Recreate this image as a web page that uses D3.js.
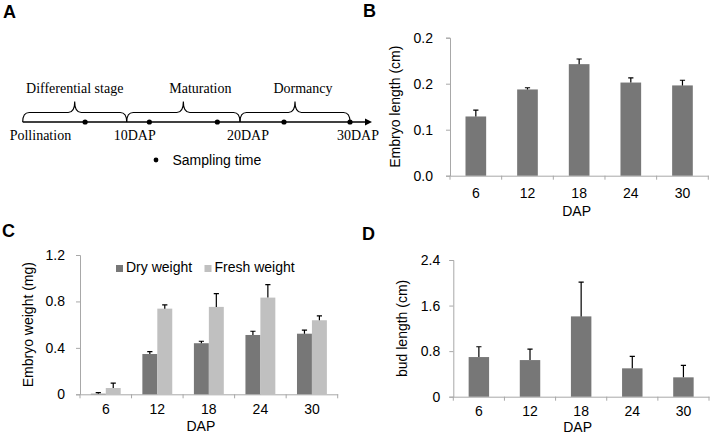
<!DOCTYPE html>
<html><head><meta charset="utf-8">
<script src="https://cdn.jsdelivr.net/npm/d3@7"></script>
<style>body{margin:0;background:#fff}svg{display:block}</style>
</head><body>
<svg id="chart" width="717" height="439"></svg>
<script>
// ---------- data ----------
const dap = ["6","12","18","24","30"];

const embryoLength    = [0.103, 0.150, 0.194, 0.162, 0.157];
const embryoLengthErr = [0.011, 0.003, 0.009, 0.008, 0.009];
const lengthTicks      = [0, 0.08, 0.16, 0.24];
const lengthTickLabels = ["0.0", "0.1", "0.2", "0.2"];

const dryWeight      = [0.005, 0.347, 0.440, 0.511, 0.522];
const dryWeightErr   = [0.010, 0.020, 0.017, 0.032, 0.030];
const freshWeight    = [0.054, 0.738, 0.753, 0.833, 0.638];
const freshWeightErr = [0.043, 0.032, 0.114, 0.112, 0.037];
const weightTicks      = [0, 0.4, 0.8, 1.2];
const weightTickLabels = ["0", "0.4", "0.8", "1.2"];
const weightSeries = ["Dry weight", "Fresh weight"];

const budLength    = [0.696, 0.643, 1.410, 0.498, 0.340];
const budLengthErr = [0.181, 0.193, 0.602, 0.211, 0.211];
const budTicks      = [0, 0.8, 1.6, 2.4];
const budTickLabels = ["0", "0.8", "1.6", "2.4"];

const stageNames     = ["Differential stage", "Maturation", "Dormancy"];
const stageBounds    = [0, 10, 20, 30];
const timelineLabels = ["Pollination", "10DAP", "20DAP", "30DAP"];
const samplingDays   = [6, 12, 18, 24, 30];
const samplingLabel  = "Sampling time";

// ---------- style ----------
const sans = "'Liberation Sans', Arial, sans-serif";
const serif = "'Liberation Serif', 'Times New Roman', serif";
const axisColor = "#a8a8a8";
const darkBar = "#777777";
const lightBar = "#c0c0c0";

const svg = d3.select("#chart");

// ---------- panel letters ----------
[["A",3,18],["B",363,17],["C",2,237],["D",362,240]].forEach(([t,x,y])=>{
  svg.append("text").attr("x",x).attr("y",y).text(t)
    .attr("font-family",sans).attr("font-weight","bold").attr("font-size",18);
});

// ---------- panel A: timeline schematic ----------
(function(){
  const g = svg.append("g");
  const t = d3.scaleLinear().domain(stageBounds).range([22.7, 126.7, 240, 350]);
  const lineY = 122, braceY = 112.5, tipY = 101.5, r = 6.5;
  const arrowEnd = 372;
  g.append("line").attr("x1", t(0)).attr("x2", arrowEnd - 6).attr("y1", lineY).attr("y2", lineY)
    .attr("stroke","#000").attr("stroke-width",1.4);
  g.append("path").attr("d", `M${arrowEnd},${lineY} L${arrowEnd-7},${lineY-3.5} L${arrowEnd-7},${lineY+3.5} Z`).attr("fill","#000");
  const labelDx = [0, 17, 8];
  stageNames.forEach((name,i)=>{
    const a = t(stageBounds[i]), b = t(stageBounds[i+1]), m = (a+b)/2;
    const p = d3.path();
    p.moveTo(a, lineY);
    p.quadraticCurveTo(a, braceY, a + r, braceY);
    p.lineTo(m - r, braceY);
    p.quadraticCurveTo(m, braceY, m, tipY);
    p.quadraticCurveTo(m, braceY, m + r, braceY);
    p.lineTo(b - r, braceY);
    p.quadraticCurveTo(b, braceY, b, lineY);
    g.append("path").attr("d", p.toString()).attr("fill","none").attr("stroke","#000").attr("stroke-width",1.1);
    g.append("text").attr("x", m + labelDx[i]).attr("y", 93.3).attr("text-anchor","middle")
      .attr("font-family", serif).attr("font-size",14).text(name);
  });
  timelineLabels.forEach((lab,i)=>{
    g.append("text").attr("x", t(stageBounds[i]) - 13).attr("y", 140)
      .attr("font-family", serif).attr("font-size",14).text(lab);
  });
  g.selectAll("circle.s").data(samplingDays).enter().append("circle")
    .attr("cx", d=>t(d)).attr("cy", lineY).attr("r", 2.6).attr("fill","#000");
  g.append("circle").attr("cx",156).attr("cy",160).attr("r",2.4).attr("fill","#000");
  g.append("text").attr("x",172.5).attr("y",164.8).attr("font-family",sans).attr("font-size",14).text(samplingLabel);
})();

// ---------- bar panels ----------
function barPanel(cfg){
  const g = svg.append("g");
  const x = d3.scaleBand().domain(dap).range([cfg.x0, cfg.x1]).padding(0);
  const y = d3.scaleLinear().domain([0, cfg.ticks[cfg.ticks.length-1]]).range([cfg.yBase, cfg.yTop]);
  const bw = x.bandwidth();
  // y axis
  const ya = g.append("g").attr("transform",`translate(${cfg.x0},0)`)
    .call(d3.axisLeft(y).tickValues(cfg.ticks).tickFormat((d,i)=>cfg.tickLabels[i]).tickSize(4).tickPadding(cfg.yPad));
  ya.select(".domain").attr("stroke",axisColor);
  ya.selectAll(".tick line").attr("stroke",axisColor);
  ya.selectAll("text").attr("font-family",sans).attr("font-size",14).attr("fill","#000");
  // x axis
  const xa = g.append("g").attr("transform",`translate(0,${cfg.yBase})`)
    .call(d3.axisBottom(x).tickSize(0).tickPadding(cfg.xPad));
  xa.select(".domain").attr("stroke",axisColor);
  xa.selectAll("text").attr("font-family",sans).attr("font-size",14).attr("fill","#000");
  g.selectAll("line.bt").data(dap.map(d=>x(d)).concat([cfg.x1])).enter().append("line")
    .attr("x1",d=>d).attr("x2",d=>d).attr("y1",cfg.yBase).attr("y2",cfg.yBase+4).attr("stroke",axisColor);
  // bars
  const groupW = bw * cfg.groupFrac;
  const inner = d3.scaleBand().domain(d3.range(cfg.series.length)).range([0, groupW]);
  cfg.series.forEach((s,si)=>{
    const off = (bw - groupW)/2 + inner(si);
    const w = inner.bandwidth();
    g.selectAll(null).data(dap).enter().append("rect")
      .attr("x", d=>x(d)+off).attr("width", w)
      .attr("y", (d,i)=>y(s.values[i])).attr("height",(d,i)=>cfg.yBase - y(s.values[i]))
      .attr("fill", s.color);
    g.selectAll(null).data(dap).enter().append("path")
      .attr("d",(d,i)=>{
        const cx = x(d)+off+w/2, y0 = y(s.values[i]), y1 = y(s.values[i]+s.errs[i]);
        return `M${cx},${y0}V${y1}M${cx-2.6},${y1}H${cx+2.6}`;
      })
      .attr("stroke","#000").attr("stroke-width",1.2).attr("fill","none");
  });
  // titles
  g.append("text").attr("transform",`translate(${cfg.yTitleX},${(cfg.yTop+cfg.yBase)/2}) rotate(-90)`)
    .attr("text-anchor","middle").attr("dy","0.35em").attr("font-family",sans).attr("font-size",14).text(cfg.yTitle);
  g.append("text").attr("x",(cfg.x0+cfg.x1)/2 + cfg.xTitleDx).attr("y",cfg.xTitleY)
    .attr("text-anchor","middle").attr("font-family",sans).attr("font-size",14).text("DAP");
  return {g,x,y};
}

barPanel({x0:450, x1:708.3, yTop:37.7, yBase:175.7, ticks:lengthTicks, tickLabels:lengthTickLabels,
  yPad:13, xPad:12.5, groupFrac:0.4,
  series:[{values:embryoLength, errs:embryoLengthErr, color:darkBar}],
  yTitle:"Embryo length (cm)", yTitleX:395, xTitleDx:-2.5, xTitleY:215.5});

const pc = barPanel({x0:80, x1:337.7, yTop:255, yBase:394.3, ticks:weightTicks, tickLabels:weightTickLabels,
  yPad:11, xPad:10, groupFrac:0.58,
  series:[{values:dryWeight, errs:dryWeightErr, color:darkBar},{values:freshWeight, errs:freshWeightErr, color:lightBar}],
  yTitle:"Embryo weight (mg)", yTitleX:28.3, xTitleDx:-8, xTitleY:430.5});

// legend for C
[[116, darkBar],[204.5, lightBar]].forEach(([lx,col],i)=>{
  pc.g.append("rect").attr("x",lx).attr("y",265).attr("width",7).attr("height",7).attr("fill",col);
  pc.g.append("text").attr("x",lx+10).attr("y",272.3).attr("font-family",sans).attr("font-size",14).text(weightSeries[i]);
});

barPanel({x0:453.3, x1:709, yTop:260, yBase:396.7, ticks:budTicks, tickLabels:budTickLabels,
  yPad:9, xPad:9, groupFrac:0.4,
  series:[{values:budLength, errs:budLengthErr, color:darkBar}],
  yTitle:"bud length (cm)", yTitleX:401.7, xTitleDx:-3.5, xTitleY:431.5});
</script>
</body></html>
